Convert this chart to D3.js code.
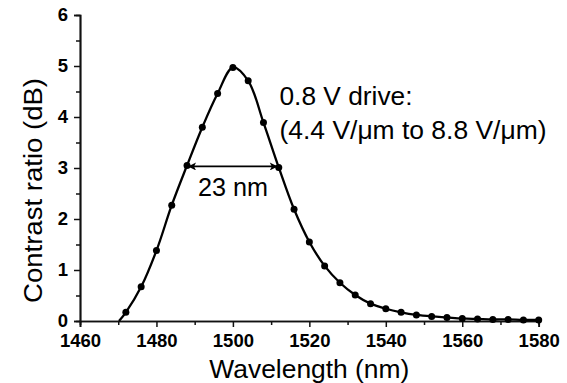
<!DOCTYPE html>
<html>
<head>
<meta charset="utf-8">
<script src="https://cdn.jsdelivr.net/npm/d3@7/dist/d3.min.js"></script>
<style>
  html, body { margin: 0; padding: 0; background: #fff; }
  svg { display: block; }
  text { font-family: "Liberation Sans", Arial, Helvetica, sans-serif; fill: #000; }
</style>
</head>
<body>
<script>
// ---- data ----
const wavelengths = [1472, 1476, 1480, 1484, 1488, 1492, 1496, 1500, 1504, 1508, 1512, 1516, 1520, 1524,
                     1528, 1532, 1536, 1540, 1544, 1548, 1552, 1556, 1560, 1564, 1568, 1572, 1576, 1580];
const contrast =    [0.17, 0.67, 1.38, 2.27, 3.05, 3.80, 4.46, 4.97, 4.71, 3.89, 3.01, 2.19, 1.55, 1.08,
                     0.75, 0.51, 0.34, 0.24, 0.17, 0.12, 0.09, 0.07, 0.05, 0.04, 0.03, 0.03, 0.02, 0.02];
// fitted curve begins at the axis just before the first measured point
const curveStartWl = [1470.2];
const curveStartVal = [0];
const xTicks = [1460, 1480, 1500, 1520, 1540, 1560, 1580];
const xMinorTicks = [1470, 1490, 1510, 1530, 1550, 1570];
const yTicks = [0, 1, 2, 3, 4, 5, 6];
const yMinorTicks = [0.5, 1.5, 2.5, 3.5, 4.5, 5.5];
const fwhmEnds = [1488, 1512];
const fwhmLevel = [3.03];
const fwhmLabel = "23 nm";
const noteLines = ["0.8 V drive:", "(4.4 V/\u03bcm to 8.8 V/\u03bcm)"];
const xTitle = "Wavelength (nm)";
const yTitle = "Contrast ratio (dB)";

// ---- layout ----
const W = 567, H = 383;
const svg = d3.select("body").append("svg").attr("width", W).attr("height", H);
svg.append("rect").attr("width", W).attr("height", H).attr("fill", "#fff");

const x = d3.scaleLinear().domain([1460, 1580]).range([80, 538.7]);
const y = d3.scaleLinear().domain([0, 6]).range([321, 15]);

// axes
const xAxis = d3.axisBottom(x).tickValues(xTicks).tickFormat(d3.format("d")).tickSizeOuter(0).tickSize(6).tickPadding(7);
const xMinor = d3.axisBottom(x).tickValues(xMinorTicks).tickFormat("").tickSizeOuter(0).tickSize(4);
const yAxis = d3.axisLeft(y).tickValues(yTicks).tickFormat(d3.format("d")).tickSizeOuter(0).tickSize(6).tickPadding(6);
const yMinor = d3.axisLeft(y).tickValues(yMinorTicks).tickFormat("").tickSizeOuter(0).tickSize(4);

function styleAxis(g) {
  g.attr("font-family", "'Liberation Sans', Arial, sans-serif");
  g.selectAll("path.domain").attr("stroke", "#111").attr("stroke-width", 1.7);
  g.selectAll(".tick line").attr("stroke", "#111").attr("stroke-width", 1.5);
  g.selectAll(".tick text").attr("font-size", 18.5).attr("font-weight", "bold").attr("fill", "#000");
}
svg.append("g").attr("transform", `translate(0,${y(0)})`).call(xMinor).call(styleAxis);
svg.append("g").attr("transform", `translate(0,${y(0)})`).call(xAxis).call(styleAxis);
svg.append("g").attr("transform", `translate(${x(1460)},0)`).call(yMinor).call(styleAxis);
svg.append("g").attr("transform", `translate(${x(1460)},0)`).call(yAxis).call(styleAxis);

// titles
svg.append("text").attr("x", (x(1460) + x(1580)) / 2).attr("y", 377.5)
  .attr("text-anchor", "middle").attr("font-size", 25.5)
  .attr("textLength", 200).attr("lengthAdjust", "spacingAndGlyphs").text(xTitle);
svg.append("text").attr("transform", `translate(41.5,${190.5}) rotate(-90)`)
  .attr("text-anchor", "middle").attr("font-size", 25.5)
  .attr("textLength", 225).attr("lengthAdjust", "spacingAndGlyphs").text(yTitle);

// curve
const pts = wavelengths.map((w, i) => [w, contrast[i]]);
const curvePts = curveStartWl.map((w, i) => [w, curveStartVal[i]]).concat(pts);
const line = d3.line().x(d => x(d[0])).y(d => y(d[1])).curve(d3.curveCatmullRom.alpha(0.5));
svg.append("path").attr("d", line(curvePts)).attr("fill", "none")
  .attr("stroke", "#000").attr("stroke-width", 2.3).attr("stroke-linejoin", "round");

svg.append("g").selectAll("circle").data(pts).join("circle")
  .attr("cx", d => x(d[0])).attr("cy", d => y(d[1])).attr("r", 3.5).attr("fill", "#000");

// FWHM arrow
const defs = svg.append("defs");
defs.append("marker").attr("id", "ah").attr("viewBox", "0 0 10 10").attr("refX", 10).attr("refY", 5)
  .attr("markerWidth", 11).attr("markerHeight", 8).attr("markerUnits", "userSpaceOnUse")
  .attr("orient", "auto-start-reverse")
  .append("path").attr("d", "M0,0 L10,5 L0,10 L2.5,5 Z").attr("fill", "#000");
svg.append("line")
  .attr("x1", x(fwhmEnds[0]) + 1).attr("x2", x(fwhmEnds[1]) - 1)
  .attr("y1", y(fwhmLevel[0])).attr("y2", y(fwhmLevel[0]))
  .attr("stroke", "#000").attr("stroke-width", 1.8)
  .attr("marker-start", "url(#ah)").attr("marker-end", "url(#ah)");
svg.append("text").attr("x", (x(fwhmEnds[0]) + x(fwhmEnds[1])) / 2).attr("y", 196)
  .attr("text-anchor", "middle").attr("font-size", 25)
  .attr("textLength", 70).attr("lengthAdjust", "spacingAndGlyphs").text(fwhmLabel);

// note
const noteWidths = [133, 267];
svg.append("g").selectAll("text").data(noteLines).join("text")
  .attr("x", 279.5).attr("y", (d, i) => 104.5 + i * 34)
  .attr("font-size", 25.5)
  .attr("textLength", (d, i) => noteWidths[i]).attr("lengthAdjust", "spacingAndGlyphs")
  .text(d => d);
</script>
</body>
</html>
